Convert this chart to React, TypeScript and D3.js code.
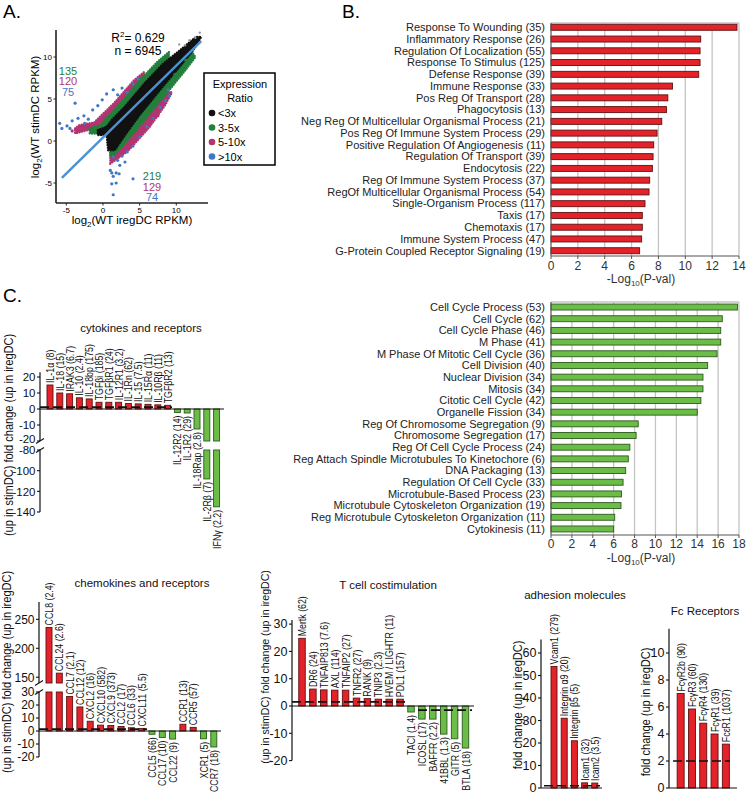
import React from "react";
import * as d3 from "d3";

const FONT = '"Liberation Sans", Arial, Helvetica, sans-serif';
const RED = "#e4222a";
const RED_EDGE = "#5e1111";
const GREEN = "#6cbd48";
const GREEN_EDGE = "#2c5a1c";
const SC_BLACK = "#111111";
const SC_GREEN = "#23803c";
const SC_PINK = "#b3356f";
const SC_BLUE = "#3e78c2";
const SC_GREY = "#9a9a9a";
const FIT_BLUE = "#4b92d2";

type P = [number, number];

// ================= Panel A data (log2 RPKM) =================
const scatterTicks = [-5, 0, 5, 10];
const fitLine: P[] = [[-5.6, -4.4], [13.4, 11.9]];
const cloudBlack: P[] = [[-0.7, 1.3], [0.5, 1.7], [1.2, 2.5], [3.0, 4.1], [5.7, 6.9], [8.2, 9.2], [10.5, 10.8], [12.7, 12.4], [13.4, 12.4], [12.3, 10.8], [10.5, 8.9], [7.8, 6.1], [5.0, 3.1], [3.0, 0.7], [1.6, -1.1], [0.7, -1.1], [0.5, 0.7], [-0.7, 0.7]];
const bandGreenUp: P[] = [[-1.8, 1.5], [-0.3, 1.9], [0.4, 2.7], [2.2, 4.3], [4.9, 7.1], [7.4, 9.4], [9.0, 10.6], [9.0, 9.6], [4.0, 4.0], [0.8, 0.9], [-1.8, 0.9]];
const bandPinkUp: P[] = [[-3.8, 1.5], [-3.2, 1.9], [-1.2, 2.2], [-0.4, 2.9], [1.5, 4.5], [4.2, 7.2], [5.6, 8.2], [5.6, 7.0], [1.0, 2.0], [-3.8, 0.9]];
const bandGreenLow: P[] = [[1.4, -1.8], [3.6, 0.3], [5.8, 2.6], [8.6, 5.6], [11.3, 8.5], [12.6, 10.0], [12.0, 10.8], [6.4, 5.5], [1.0, 0.1], [1.0, -1.8]];
const bandPinkLow: P[] = [[1.0, -2.7], [3.4, -1.2], [6.3, 1.6], [8.5, 4.3], [9.4, 5.8], [8.4, 5.8], [2.3, 0.1], [1.0, -1.1]];
const pointsBlue: P[] = [
  [-5.9, 2.1], [-5.6, 1.5], [-4.9, 1.8], [-4.5, 1.5], [-4.2, 2.4], [-3.8, 4.5], [-3.4, 2.7], [-2.6, 3.0], [-2.5, 2.1], [-2.0, 2.6],
  [-1.4, 3.7], [-0.7, 4.2], [-0.1, 4.9], [0.5, 5.6], [1.4, 6.1], [2.0, 5.5], [2.6, 6.3], [3.3, 5.8], [4.1, 6.8], [4.8, 7.4],
  [1.4, -1.9], [2.0, -2.3], [2.6, -1.8], [3.3, -1.3], [4.1, -0.6], [5.0, 0.5], [6.0, 1.7], [6.8, 2.7], [7.8, 4.0], [8.5, 4.8],
  [9.1, 5.4], [8.9, 6.1], [2.3, -2.9], [3.0, -2.5], [1.0, -3.5], [1.2, -3.8], [1.4, -4.2], [1.8, -3.8], [2.2, -3.9], [1.8, -5.0],
  [1.2, -5.1], [4.1, -4.5], [1.4, -6.4]];
const pointsGreen: P[] = [[12.1, 9.9], [11.3, 9.6], [9.8, 7.9]];
const pointsPink: P[] = [[-4.2, 1.2], [7.5, 3.0]];
const pointsGrey: P[] = [[12.6, 12.3], [13.2, 12.9], [11.2, 11.4], [11.8, 12.0], [10.4, 11.5]];
const upCounts = ["135", "120", "75"];
const downCounts = ["219", "129", "74"];
const legendLabels = ["<3x", "3-5x", "5-10x", ">10x"];
const r2Value = "0.629";
const nValue = "6945";

// ================= Panel B data =================
const upTerms = [
  "Response To Wounding (35)", "Inflammatory Response (26)", "Regulation Of Localization (55)", "Response To Stimulus (125)",
  "Defense Response (39)", "Immune Response (33)", "Pos Reg Of Transport (28)", "Phagocytosis (13)",
  "Neg Reg Of Multicellular Organismal Process (21)", "Pos Reg Of Immune System Process (29)", "Positive Regulation Of Angiogenesis (11)",
  "Regulation Of Transport (39)", "Endocytosis (22)", "Reg Of Immune System Process (37)", "RegOf Multicellular Organismal Process (54)",
  "Single-Organism Process (117)", "Taxis (17)", "Chemotaxis (17)", "Immune System Process (47)", "G-Protein Coupled Receptor Signaling  (19)"];
const upLogP = [13.85, 11.15, 11.1, 11.1, 11.0, 9.05, 8.7, 8.6, 8.25, 7.9, 7.65, 7.6, 7.55, 7.35, 7.3, 7.0, 6.8, 6.8, 6.75, 6.6];
const upTicks = [0, 2, 4, 6, 8, 10, 12, 14];

const downTerms = [
  "Cell Cycle Process (53)", "Cell Cycle (62)", "Cell Cycle Phase (46)", "M Phase (41)", "M Phase Of Mitotic Cell Cycle (36)",
  "Cell Division (40)", "Nuclear Division (34)", "Mitosis (34)", "Citotic Cell Cycle (42)", "Organelle Fission (34)",
  "Reg Of Chromosome Segregation (9)", "Chromosome Segregation (17)", "Reg Of Cell Cycle Process (24)",
  "Reg Attach Spindle Microtubules To Kinetochore (6)", "DNA Packaging (13)", "Regulation Of Cell Cycle (33)",
  "Microtubule-Based Process (23)", "Microtubule Cytoskeleton Organization (19)", "Reg Microtubule Cytoskeleton Organization (11)", "Cytokinesis (11)"];
const downLogP = [17.85, 16.4, 16.25, 16.25, 15.9, 15.0, 14.55, 14.55, 14.35, 14.0, 8.35, 8.15, 7.55, 7.4, 7.15, 6.9, 6.75, 6.7, 6.1, 6.0];
const downTicks = [0, 2, 4, 6, 8, 10, 12, 14, 16, 18];

// ================= Panel C data =================
const cytoGenes = ["IL-1α (8)", "IL-18 (15)", "IRAK3 (6.7)", "IL-10 (2.4)", "IL-18bp (175)", "TGFβi (185)", "TGFβR1 (24)", "IL-12R1 (3.2)", "IL-1Rn (62)", "IL-15 (7.5)", "IL-15Rα (11)", "IL-10Rβ (11)", "TGFβR2 (13)", "IL-12R2 (14)", "IL-1R2 (29)", "IL-18Rap (2.8)", "IL-2Rβ (7)", "IFNγ (2.2)"];
const cytoFold = [15, 10, 9.5, 7, 6.3, 4.2, 4.2, 4.2, 3.4, 3.2, 2.9, 2.6, 2.3, -2.2, -2.5, -12.5, -108, -135];
const cytoTicksMain = [20, 10, 0, -10, -20];
const cytoTicksLow = [-80, -100, -120, -140];

const chemoGenes = ["CCL8 (2.4)", "CCL24 (2.6)", "CCL7 (2.1)", "CCL12 (12)", "CXCL2 (16)", "CXCL10 (582)", "CXCL9 (373)", "CCL2 (17)", "CCL6 (33)", "CXCL11 (5.5)", "CCL5 (66)", "CCL17 (10)", "CCL22 (9)", "CCR1 (13)", "CCR5 (57)", "XCR1 (5)", "CCR7 (18)"];
const chemoFold = [236, 157, 26.5, 18.5, 7.5, 4.5, 4.2, 3.5, 2.5, 2.0, -2.5, -5, -6.2, 5.2, 2.8, -6, -12.3];
const chemoTicksUp = [150, 200, 250];
const chemoTicksMain = [30, 20, 10, 0, -10, -20];

const tcellGenes = ["Mertk (62)", "DR6 (24)", "TNFAIP813 (7.6)", "AXL (114)", "TNFAIP2 (27)", "TNFR2 (27)", "RANK (9)", "TNIP3 (2.3)", "HVEM / LIGHTR (11)", "PDL1 (157)", "TACI (1.4)", "ICOSL (17)", "BAFFR (2.2)", "41BBL (1.3)", "GITR (5)", "BTLA (18)"];
const tcellFold = [24.8, 6.2, 5.9, 5.8, 5.8, 2.9, 2.7, 2.5, 2.5, 2.5, -2.2, -4.8, -4.8, -10.3, -12, -15.4];
const tcellTicks = [30, 20, 10, 0, -10, -20];

const adhGenes = ["Vcam1 (279)", "Integrin α9 (20)", "Integrin β5 (5)", "Icam1 (32)", "Icam2 (3.5)"];
const adhFold = [54, 31, 21, 2.3, 2.2];
const adhTicks = [0, 10, 20, 30, 40, 50, 60];

const fcGenes = ["FcγR2b (90)", "FcγR3 (60)", "FcγR4 (130)", "FcγR1 (39)", "FcεR1 (1037)"];
const fcFold = [7.0, 5.85, 4.8, 4.0, 3.25];
const fcTicks = [0, 2, 4, 6, 8, 10];

const Y_BOTH = "(up in stimDC) fold change (up in iregDC)";
const Y_UP = "fold change (up in iregDC)";

// ================= Panel A =================
function PanelA() {
  const x = d3.scaleLinear().domain([-5, 10]).range([66.3, 176.3]);
  const y = d3.scaleLinear().domain([-5, 10]).range([183, 57]);
  const area = d3.line<P>().x(d => x(d[0])).y(d => y(d[1])).curve(d3.curveLinearClosed);
  const fit = d3.line<P>().x(d => x(d[0])).y(d => y(d[1]));
  const axX = 56, axY = 203, xEnd = 208, yTop = 30;
  const band = (pts: P[], c: string) => (
    <path d={area(pts) || ""} fill={c} stroke={c} strokeWidth={2.4} strokeDasharray="0.1 2.5" strokeLinecap="round" strokeLinejoin="round" />
  );
  const dots = (pts: P[], c: string, r = 1.6) => pts.map((d, i) => <circle key={i} cx={x(d[0])} cy={y(d[1])} r={r} fill={c} />);
  const cols = [SC_GREEN, SC_PINK, SC_BLUE];
  const legCols = [SC_BLACK, SC_GREEN, SC_PINK, SC_BLUE];
  return (
    <g>
      <text x={3} y={18} fontSize={19}>A.</text>
      {band(bandPinkUp, SC_PINK)}
      {band(bandPinkLow, SC_PINK)}
      {band(bandGreenUp, SC_GREEN)}
      {band(bandGreenLow, SC_GREEN)}
      {band(cloudBlack, SC_BLACK)}
      {dots(pointsGrey, SC_GREY, 1.2)}
      {dots(pointsBlue, SC_BLUE)}
      {dots(pointsGreen, SC_GREEN)}
      {dots(pointsPink, SC_PINK)}
      <path d={fit(fitLine) || ""} stroke={FIT_BLUE} strokeWidth={2.4} fill="none" />
      <line x1={axX} x2={axX} y1={yTop} y2={axY} stroke="#222" strokeWidth={1.6} />
      <line x1={axX} x2={xEnd} y1={axY} y2={axY} stroke="#222" strokeWidth={1.6} />
      {scatterTicks.map(t => (
        <g key={"x" + t}>
          <line x1={x(t)} x2={x(t)} y1={axY} y2={axY + 2.5} stroke="#222" />
          <text x={x(t)} y={axY + 9.5} fontSize={8} textAnchor="middle">{t}</text>
        </g>
      ))}
      {scatterTicks.map(t => (
        <g key={"y" + t}>
          <line x1={axX - 2.5} x2={axX} y1={y(t)} y2={y(t)} stroke="#222" />
          <text x={axX - 4} y={y(t) + 3} fontSize={8} textAnchor="end">{t}</text>
        </g>
      ))}
      <text transform={`translate(39,117) rotate(-90)`} fontSize={11.5} textAnchor="middle">
        log<tspan fontSize={8} dy={3}>2</tspan><tspan dy={-3}>(WT stimDC RPKM)</tspan>
      </text>
      <text x={132} y={224} fontSize={11.5} textAnchor="middle">
        log<tspan fontSize={8} dy={3}>2</tspan><tspan dy={-3}>(WT iregDC RPKM)</tspan>
      </text>
      <text x={138} y={42} fontSize={12} textAnchor="middle">
        R<tspan fontSize={8} dy={-5}>2</tspan><tspan dy={5}>= {r2Value}</tspan>
      </text>
      <text x={138} y={55} fontSize={12} textAnchor="middle">n = {nValue}</text>
      {upCounts.map((c, i) => (
        <text key={"u" + i} x={68} y={74.5 + i * 10.6} fontSize={11} textAnchor="middle" fill={cols[i]}>{c}</text>
      ))}
      {downCounts.map((c, i) => (
        <text key={"d" + i} x={152} y={180 + i * 10.6} fontSize={11} textAnchor="middle" fill={cols[i]}>{c}</text>
      ))}
      <rect x={204} y={73} width={71} height={92} fill="#fff" stroke="#000" strokeWidth={1.5} />
      <text x={240} y={88} fontSize={11} textAnchor="middle">Expression</text>
      <text x={240} y={102} fontSize={11} textAnchor="middle">Ratio</text>
      {legendLabels.map((l, i) => (
        <g key={l}>
          <circle cx={212} cy={113 + i * 14.5} r={3.3} fill={legCols[i]} />
          <text x={218} y={117 + i * 14.5} fontSize={11}>{l}</text>
        </g>
      ))}
    </g>
  );
}

// ================= Horizontal GO bar panels =================
interface HSpec {
  terms: string[]; vals: number[]; ticks: number[];
  xLeft: number; xRight: number; yTop: number; yBottom: number; bandTop: number; bandBottom: number;
  fill: string; edge: string; tickY: number; titleY: number;
}
function HBarPanel({ s }: { s: HSpec }) {
  const xMax = s.ticks[s.ticks.length - 1];
  const x = d3.scaleLinear().domain([0, xMax]).range([s.xLeft, s.xRight]);
  const p = 0.49;
  const y = d3.scaleBand<string>().domain(s.terms).range([s.bandTop, s.bandBottom]).paddingInner(p).paddingOuter(p / 2);
  return (
    <g>
      {s.ticks.filter(t => t > 0).map(t => (
        <line key={"g" + t} x1={x(t)} x2={x(t)} y1={s.yTop} y2={s.yBottom} stroke="#c4c4c4" strokeWidth={1.3} />
      ))}
      <line x1={s.xLeft} x2={s.xRight} y1={s.yTop} y2={s.yTop} stroke="#c4c4c4" strokeWidth={1.3} />
      {s.terms.map((t, i) => (
        <rect key={t} x={x(0)} y={y(t)} width={x(s.vals[i]) - x(0)} height={y.bandwidth()} fill={s.fill} stroke={s.edge} strokeWidth={0.9} />
      ))}
      <line x1={s.xLeft} x2={s.xLeft} y1={s.yTop} y2={s.yBottom} stroke="#555" strokeWidth={1.2} />
      <line x1={s.xLeft} x2={s.xRight} y1={s.yBottom} y2={s.yBottom} stroke="#555" strokeWidth={1.2} />
      {s.ticks.map(t => (
        <g key={"t" + t}>
          <line x1={x(t)} x2={x(t)} y1={s.yBottom} y2={s.yBottom + 3} stroke="#555" />
          <text x={x(t)} y={s.tickY} fontSize={12} textAnchor="middle" fill="#333">{t}</text>
        </g>
      ))}
      {s.terms.map(t => (
        <text key={"l" + t} x={s.xLeft - 6} y={(y(t) || 0) + y.bandwidth() / 2 + 3.8} fontSize={11} textAnchor="end" fill="#222">{t}</text>
      ))}
      <text x={(s.xLeft + s.xRight) / 2 - 4} y={s.titleY} fontSize={12} textAnchor="middle" fill="#333">
        -Log<tspan fontSize={8} dy={3}>10</tspan><tspan dy={-3}>(P-val)</tspan>
      </text>
    </g>
  );
}

// ================= Vertical fold-change panels =================
type Seg = { lo: number; hi: number; yLo: number; yHi: number; ticks: number[] };
type Thr = { v: number; x1: number; x2: number };
interface VSpec {
  genes: string[]; fold: number[];
  x0: number; step: number; bw: number;
  axisX: number; zeroEnd: number; segs: Seg[];
  title: string; titleX: number; titleY: number;
  ylabel: string; ylabelX: number; ylabelY: number; ylabelSize: number;
  tickSize: number; thr: Thr[];
}
function VBarPanel({ s }: { s: VSpec }) {
  const n = s.genes.length;
  const p = 1 - s.bw / s.step;
  const x = d3.scaleBand<string>().domain(s.genes).range([s.x0, s.x0 + s.step * n]).paddingInner(p).paddingOuter(p / 2);
  const ys = s.segs.map(g => d3.scaleLinear().domain([g.lo, g.hi]).range([g.yLo, g.yHi]));
  const zi = s.segs.findIndex(g => g.lo <= 0 && g.hi >= 0);
  const y0 = ys[zi](0);
  const bars: React.ReactNode[] = [];
  const labels: React.ReactNode[] = [];
  s.genes.forEach((gname, i) => {
    const v = s.fold[i];
    const lo = Math.min(0, v), hi = Math.max(0, v);
    let top = Infinity, bot = -Infinity;
    s.segs.forEach((g, j) => {
      const a = Math.max(lo, g.lo), b = Math.min(hi, g.hi);
      if (b > a) {
        const yt = ys[j](b), yb = ys[j](a);
        bars.push(
          <rect key={gname + j} x={x(gname)} y={yt} width={x.bandwidth()} height={yb - yt}
            fill={v > 0 ? RED : GREEN} stroke={v > 0 ? RED_EDGE : GREEN_EDGE} strokeWidth={0.9} />
        );
        top = Math.min(top, yt); bot = Math.max(bot, yb);
      }
    });
    const cx = (x(gname) || 0) + x.bandwidth() / 2;
    if (v > 0) {
      labels.push(<text key={"l" + gname} transform={`translate(${cx + 4},${top - 2}) scale(1,0.8) rotate(-90)`} fontSize={11} fill="#111">{gname}</text>);
    } else {
      labels.push(<text key={"l" + gname} transform={`translate(${cx + 4},${bot + 3}) scale(1,0.8) rotate(-90)`} fontSize={11} textAnchor="end" fill="#111">{gname}</text>);
    }
  });
  const segPix = s.segs.map(g => ({ top: Math.min(g.yLo, g.yHi), bottom: Math.max(g.yLo, g.yHi) })).sort((a, b) => a.top - b.top);
  const breaks: number[] = [];
  for (let k = 0; k < segPix.length - 1; k++) { breaks.push(segPix[k].bottom, segPix[k + 1].top); }
  // lift a tick label that sits exactly at the bottom of an upper axis piece, away from the piece below
  const nudge = (py: number) => {
    for (let k = 0; k < segPix.length - 1; k++) {
      if (Math.abs(py - segPix[k].bottom) < 1) return -2.6;
    }
    return 0;
  };
  return (
    <g>
      {bars}
      <line x1={s.axisX} x2={s.zeroEnd} y1={y0} y2={y0} stroke="#111" strokeWidth={1.2} />
      {s.thr.map((t, i) => (
        <line key={"th" + i} x1={t.x1} x2={t.x2} y1={ys[zi](t.v)} y2={ys[zi](t.v)} stroke="#111" strokeWidth={1.7} strokeDasharray="9 4" />
      ))}
      {s.segs.map((g, j) => (
        <g key={"ax" + j}>
          <line x1={s.axisX} x2={s.axisX} y1={ys[j](g.hi)} y2={ys[j](g.lo)} stroke="#111" strokeWidth={1.2} />
          {g.ticks.map(t => (
            <g key={"tk" + t}>
              <line x1={s.axisX - 3} x2={s.axisX} y1={ys[j](t)} y2={ys[j](t)} stroke="#111" strokeWidth={1.1} />
              <text x={s.axisX - 4.5} y={ys[j](t) + 4.3 + nudge(ys[j](t))} fontSize={s.tickSize} textAnchor="end" fill="#111">{t}</text>
            </g>
          ))}
        </g>
      ))}
      {breaks.map((b, i) => (
        <line key={"br" + i} x1={s.axisX - 4} x2={s.axisX + 4} y1={b + 2.5} y2={b - 2.5} stroke="#111" strokeWidth={1.1} />
      ))}
      {labels}
      <text x={s.titleX} y={s.titleY} fontSize={11.5} textAnchor="middle" fill="#111">{s.title}</text>
      <text transform={`translate(${s.ylabelX},${s.ylabelY}) scale(1,0.92) rotate(-90)`} fontSize={s.ylabelSize} textAnchor="middle" fill="#111">{s.ylabel}</text>
    </g>
  );
}

const upSpec: HSpec = {
  terms: upTerms, vals: upLogP, ticks: upTicks, xLeft: 551, xRight: 739, yTop: 23, yBottom: 256,
  bandTop: 21.4, bandBottom: 256.6, fill: RED, edge: RED_EDGE, tickY: 270, titleY: 283,
};
const downSpec: HSpec = {
  terms: downTerms, vals: downLogP, ticks: downTicks, xLeft: 551, xRight: 739, yTop: 302, yBottom: 535,
  bandTop: 301.2, bandBottom: 534.8, fill: GREEN, edge: GREEN_EDGE, tickY: 548, titleY: 562,
};
const cytoSpec: VSpec = {
  genes: cytoGenes, fold: cytoFold, x0: 45.1, step: 9.8, bw: 6, axisX: 40, zeroEnd: 224,
  segs: [
    { lo: -20, hi: 23, yLo: 441, yHi: 372.2, ticks: cytoTicksMain },
    { lo: -140, hi: -80, yLo: 512, yHi: 450, ticks: cytoTicksLow },
  ],
  title: "cytokines and receptors", titleX: 141, titleY: 332,
  ylabel: Y_BOTH, ylabelX: 13, ylabelY: 435, ylabelSize: 12, tickSize: 11.5,
  thr: [{ v: 1.2, x1: 40, x2: 172 }],
};
const chemoSpec: VSpec = {
  genes: chemoGenes, fold: chemoFold, x0: 43.85, step: 10.3, bw: 6, axisX: 39, zeroEnd: 221,
  segs: [
    { lo: 140, hi: 280, yLo: 683, yHi: 602, ticks: chemoTicksUp },
    { lo: -20, hi: 30, yLo: 757, yHi: 692, ticks: chemoTicksMain },
  ],
  title: "chemokines and receptors", titleX: 142, titleY: 587,
  ylabel: Y_BOTH, ylabelX: 11, ylabelY: 672, ylabelSize: 12, tickSize: 12,
  thr: [{ v: 1.5, x1: 39, x2: 147 }],
};
const tcellSpec: VSpec = {
  genes: tcellGenes, fold: tcellFold, x0: 296.55, step: 10.9, bw: 6.5, axisX: 292, zeroEnd: 474,
  segs: [{ lo: -20, hi: 31.5, yLo: 760.6, yHi: 620, ticks: tcellTicks }],
  title: "T cell costimulation", titleX: 388, titleY: 589,
  ylabel: Y_BOTH, ylabelX: 269, ylabelY: 667, ylabelSize: 11.5, tickSize: 12.5,
  thr: [{ v: 1.5, x1: 292, x2: 405 }, { v: -1.5, x1: 418, x2: 472 }],
};
const adhSpec: VSpec = {
  genes: adhGenes, fold: adhFold, x0: 548.9, step: 10.2, bw: 6, axisX: 541, zeroEnd: 602,
  segs: [{ lo: 0, hi: 66, yLo: 788, yHi: 639.5, ticks: adhTicks }],
  title: "adhesion molecules", titleX: 575, titleY: 599,
  ylabel: Y_UP, ylabelX: 522, ylabelY: 705, ylabelSize: 12, tickSize: 12.5,
  thr: [{ v: 1, x1: 544, x2: 600 }],
};
const fcSpec: VSpec = {
  genes: fcGenes, fold: fcFold, x0: 675, step: 11.3, bw: 7, axisX: 669, zeroEnd: 737,
  segs: [{ lo: 0, hi: 11.8, yLo: 788, yHi: 628.7, ticks: fcTicks }],
  title: "Fc Receptors", titleX: 705, titleY: 615,
  ylabel: Y_UP, ylabelX: 650, ylabelY: 712, ylabelSize: 12, tickSize: 12.5,
  thr: [{ v: 2, x1: 673, x2: 730 }],
};

export default function App() {
  return (
    <svg width={748} height={798} style={{ position: "absolute", left: 0, top: 0, display: "block" }} fontFamily={FONT}>
      <rect width={748} height={798} fill="#fff" />
      <PanelA />
      <text x={342} y={18} fontSize={19}>B.</text>
      <HBarPanel s={upSpec} />
      <HBarPanel s={downSpec} />
      <text x={3} y={302} fontSize={19}>C.</text>
      <VBarPanel s={cytoSpec} />
      <VBarPanel s={chemoSpec} />
      <VBarPanel s={tcellSpec} />
      <VBarPanel s={adhSpec} />
      <VBarPanel s={fcSpec} />
    </svg>
  );
}
